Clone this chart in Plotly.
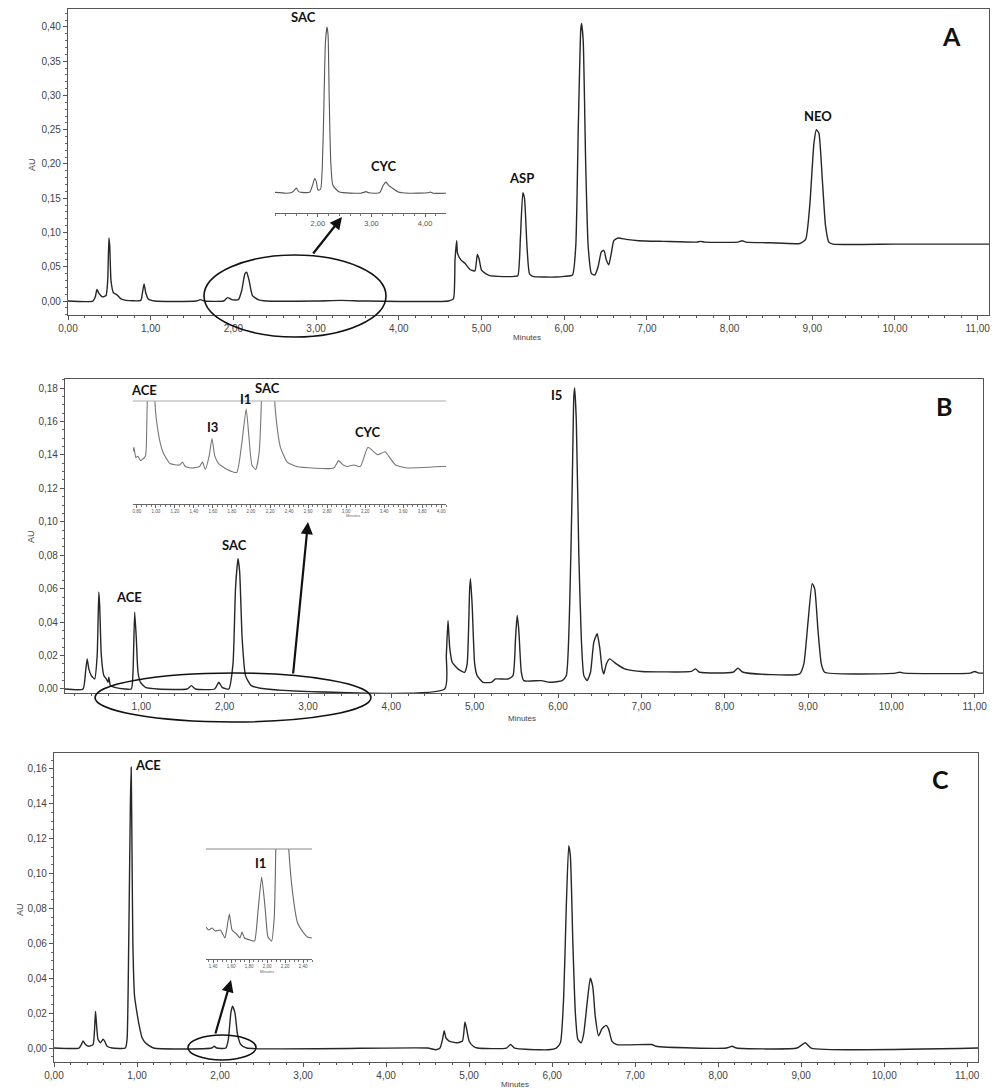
import plotly.graph_objects as go

# page body has an 8px default margin: the figure is offset by it
OFF = 8
W, H = 1000 - OFF, 1091 - OFF

# ---------------- DATA (minutes, AU) ----------------
# Panel A main chromatogram
a_t = [0.00, 0.30, 0.33, 0.35, 0.37, 0.42, 0.46, 0.48, 0.495, 0.505, 0.52, 0.55, 0.58, 0.60, 0.64, 0.70,
       0.88, 0.90, 0.92, 0.94, 0.97, 1.05, 1.55, 1.60, 1.65, 1.88, 1.93, 1.98, 2.06, 2.10, 2.14, 2.16,
       2.19, 2.23, 2.30, 2.40, 3.00, 3.30, 3.60, 4.60, 4.66, 4.68, 4.70, 4.71, 4.75, 4.80, 4.86, 4.92,
       4.95, 4.97, 5.00, 5.05, 5.10, 5.20, 5.40, 5.44, 5.47, 5.50, 5.52, 5.55, 5.58, 5.62, 5.90, 6.00,
       6.10, 6.14, 6.17, 6.20, 6.21, 6.23, 6.26, 6.29, 6.33, 6.37, 6.41, 6.45, 6.48, 6.51, 6.54, 6.57,
       6.60, 6.65, 6.75, 6.90, 7.20, 7.60, 7.65, 7.70, 8.10, 8.15, 8.20, 8.50, 8.85, 8.92, 8.97, 9.02,
       9.05, 9.08, 9.12, 9.16, 9.20, 9.25, 10.00, 11.14]
a_au = [0.000, 0.000, 0.006, 0.017, 0.012, 0.006, 0.008, 0.030, 0.092, 0.080, 0.030, 0.012, 0.010, 0.008, 0.003, 0.001,
        0.001, 0.012, 0.025, 0.012, 0.003, 0.000, 0.000, 0.002, 0.000, 0.000, 0.005, 0.002, 0.002, 0.015, 0.040, 0.042,
        0.030, 0.008, 0.002, 0.000, 0.000, 0.001, 0.000, 0.000, 0.003, 0.060, 0.088, 0.070, 0.060, 0.055, 0.046, 0.044,
        0.068, 0.062, 0.045, 0.040, 0.037, 0.036, 0.036, 0.037, 0.090, 0.158, 0.150, 0.080, 0.040, 0.036, 0.035, 0.036,
        0.038, 0.080, 0.250, 0.395, 0.405, 0.380, 0.200, 0.080, 0.040, 0.038, 0.050, 0.072, 0.074, 0.060, 0.053, 0.070,
        0.088, 0.092, 0.090, 0.088, 0.087, 0.086, 0.087, 0.086, 0.086, 0.088, 0.086, 0.085, 0.084, 0.090, 0.140, 0.230,
        0.250, 0.245, 0.180, 0.110, 0.086, 0.083, 0.083, 0.083]

# Panel A inset (zoom of 1.2-4.4 min)
ai_t = [1.20, 1.40, 1.50, 1.55, 1.60, 1.64, 1.70, 1.85, 1.90, 1.94, 1.97, 2.00, 2.05, 2.10, 2.14, 2.17,
        2.19, 2.21, 2.24, 2.28, 2.40, 2.80, 2.90, 2.95, 3.15, 3.22, 3.27, 3.32, 3.40, 3.50, 3.70, 4.05,
        4.10, 4.15, 4.39]
ai_au = [0.0002, 0.0000, 0.0001, 0.0006, 0.0013, 0.0004, 0.0002, 0.0003, 0.0020, 0.0037, 0.0030, 0.0008, 0.0010, 0.0150, 0.0380, 0.0420,
         0.0400, 0.0250, 0.0080, 0.0020, 0.0003, 0.0000, 0.0004, 0.0001, 0.0001, 0.0020, 0.0028, 0.0020, 0.0012, 0.0003, 0.0000, 0.0001,
         0.0003, 0.0000, 0.0000]

# Panel B main chromatogram
b_t = [0.08, 0.30, 0.33, 0.35, 0.37, 0.40, 0.44, 0.47, 0.49, 0.50, 0.52, 0.55, 0.58, 0.60, 0.61, 0.63,
       0.68, 0.80, 0.88, 0.90, 0.92, 0.94, 0.96, 0.99, 1.05, 1.20, 1.55, 1.60, 1.65, 1.88, 1.93, 1.97,
       2.05, 2.10, 2.13, 2.16, 2.18, 2.21, 2.25, 2.32, 2.50, 4.64, 4.66, 4.68, 4.70, 4.73, 4.80, 4.88,
       4.91, 4.94, 4.95, 4.97, 5.00, 5.03, 5.10, 5.20, 5.25, 5.40, 5.46, 5.49, 5.51, 5.53, 5.56, 5.59,
       5.80, 5.90, 6.05, 6.10, 6.14, 6.17, 6.19, 6.20, 6.22, 6.25, 6.28, 6.31, 6.35, 6.39, 6.43, 6.47,
       6.50, 6.53, 6.55, 6.58, 6.62, 6.70, 6.80, 6.90, 7.00, 7.60, 7.65, 7.70, 8.10, 8.16, 8.22, 8.90,
       8.95, 9.00, 9.05, 9.08, 9.12, 9.16, 9.20, 10.05, 10.10, 10.15, 10.95, 11.00, 11.05, 11.10]
b_au = [0.000, 0.000, 0.010, 0.018, 0.012, 0.008, 0.006, 0.020, 0.058, 0.050, 0.020, 0.008, 0.006, 0.004, 0.007, 0.002,
        0.001, 0.000, 0.000, 0.010, 0.046, 0.030, 0.010, 0.004, 0.001, 0.000, 0.000, 0.002, 0.000, 0.000, 0.004, 0.001,
        0.000, 0.015, 0.060, 0.078, 0.070, 0.030, 0.008, 0.002, 0.000, 0.000, 0.020, 0.041, 0.025, 0.016, 0.012, 0.010,
        0.015, 0.060, 0.066, 0.050, 0.015, 0.008, 0.004, 0.004, 0.006, 0.006, 0.008, 0.030, 0.044, 0.035, 0.010, 0.005,
        0.005, 0.004, 0.005, 0.008, 0.050, 0.120, 0.175, 0.180, 0.160, 0.080, 0.030, 0.008, 0.005, 0.010, 0.028, 0.033,
        0.025, 0.012, 0.009, 0.015, 0.018, 0.015, 0.012, 0.011, 0.0105, 0.0105, 0.012, 0.010, 0.010, 0.0125, 0.010, 0.009,
        0.015, 0.040, 0.063, 0.060, 0.035, 0.015, 0.010, 0.0095, 0.010, 0.0095, 0.0095, 0.0105, 0.0095, 0.0095]

# Panel B inset (zoom of 0.76-4.05 min)
bi_t = [0.76, 0.77, 0.79, 0.81, 0.84, 0.89, 0.905, 0.92, 0.95, 0.975, 0.995, 1.02, 1.05, 1.08, 1.15, 1.25,
        1.28, 1.31, 1.38, 1.46, 1.49, 1.52, 1.56, 1.59, 1.62, 1.66, 1.75, 1.85, 1.90, 1.95, 1.98, 2.01,
        2.05, 2.085, 2.11, 2.17, 2.22, 2.25, 2.28, 2.31, 2.38, 2.48, 2.87, 2.92, 2.97, 3.01, 3.08, 3.15,
        3.23, 3.33, 3.41, 3.47, 3.52, 3.64, 3.99, 4.05]
bi_au = [0.0011, 0.0014, 0.0007, 0.0008, 0.0005, 0.0008, 0.0030, 0.0080, 0.0300, 0.0080, 0.0040, 0.0026, 0.0016, 0.0010, 0.0003, 0.0002,
         0.0004, 0.0001, 0.0000, 0.0001, 0.0004, -0.0001, 0.0008, 0.0020, 0.0008, 0.0003, -0.0001, -0.0003, 0.0015, 0.0040, 0.0020, 0.0002,
         -0.0001, 0.0010, 0.0046, 0.0300, 0.0100, 0.0045, 0.0025, 0.0014, 0.0004, 0.0001, 0.0000, 0.0005, 0.0002, 0.0001, 0.0002, 0.0001,
         0.0014, 0.0009, 0.0011, 0.0006, 0.0002, 0.0000, 0.0001, 0.0001]

# Panel C main chromatogram
c_t = [0.00, 0.30, 0.33, 0.35, 0.38, 0.42, 0.47, 0.49, 0.50, 0.51, 0.53, 0.56, 0.59, 0.61, 0.64, 0.70,
       0.86, 0.88, 0.90, 0.92, 0.93, 0.94, 0.95, 0.97, 1.00, 1.03, 1.06, 1.10, 1.20, 1.90, 1.93, 1.96,
       2.07, 2.10, 2.13, 2.15, 2.18, 2.21, 2.25, 2.32, 4.50, 4.60, 4.65, 4.68, 4.70, 4.72, 4.76, 4.85,
       4.92, 4.95, 4.97, 5.00, 5.05, 5.10, 5.45, 5.50, 5.55, 5.85, 5.95, 6.05, 6.10, 6.14, 6.17, 6.20,
       6.22, 6.25, 6.28, 6.31, 6.35, 6.38, 6.42, 6.46, 6.49, 6.52, 6.56, 6.60, 6.65, 6.68, 6.72, 6.78,
       7.20, 7.25, 7.70, 8.10, 8.17, 8.22, 8.95, 9.05, 9.12, 11.13]
c_au = [0.000, 0.000, 0.002, 0.004, 0.002, 0.001, 0.002, 0.012, 0.021, 0.015, 0.005, 0.003, 0.005, 0.004, 0.001, 0.000,
        0.000, 0.005, 0.060, 0.140, 0.161, 0.110, 0.060, 0.030, 0.020, 0.012, 0.006, 0.003, 0.000, 0.000, 0.001, 0.000,
        0.000, 0.005, 0.020, 0.024, 0.020, 0.008, 0.002, 0.000, 0.000, -0.001, 0.000, 0.005, 0.010, 0.006, 0.004, 0.003,
        0.004, 0.015, 0.011, 0.004, 0.001, 0.000, 0.000, 0.002, 0.000, -0.001, -0.001, 0.000, 0.003, 0.030, 0.080, 0.116,
        0.110, 0.060, 0.020, 0.005, 0.003, 0.008, 0.025, 0.040, 0.035, 0.018, 0.007, 0.011, 0.013, 0.011, 0.004, 0.002,
        0.002, 0.001, 0.000, 0.000, 0.001, 0.000, 0.000, 0.003, 0.000, 0.000]

# Panel C inset (zoom of 1.32-2.50 min)
ci_t = [1.32, 1.35, 1.39, 1.42, 1.48, 1.53, 1.55, 1.58, 1.61, 1.66, 1.70, 1.72, 1.75, 1.81, 1.86, 1.90,
        1.94, 1.98, 2.01, 2.05, 2.08, 2.10, 2.17, 2.24, 2.29, 2.34, 2.40, 2.45, 2.50]
ci_au = [0.00020, 0.00014, 0.00018, 0.00012, 0.00014, -0.00002, 0.00014, 0.00046, 0.00014, 0.00006, -0.00002, 0.00010, -0.00002, -0.00006, -0.00008, 0.00054,
         0.00120, 0.00054, 0.00000, -0.00008, 0.00040, 0.00200, 0.00600, 0.00180, 0.00080, 0.00028, 0.00010, 0.00000, -0.00002]

# Tick labels of the insets
bi_ticks = [0.8, 1.0, 1.2, 1.4, 1.6, 1.8, 2.0, 2.2, 2.4, 2.6, 2.8, 3.0, 3.2, 3.4, 3.6, 3.8, 4.0]
ci_ticks = [1.4, 1.6, 1.8, 2.0, 2.2, 2.4]
ai_ticks = [2.0, 3.0, 4.0]


# ---------------- helpers (window pixel -> paper) ----------------
def px(x):
    return (x - OFF) / W


def py(y):
    return 1 - (y - OFF) / H


LINE = "#262626"
TICKFONT = dict(family="Liberation Sans, Arial", size=10, color="#444")

fig = go.Figure()
main_line = dict(color=LINE, width=1.4, shape="spline", smoothing=0.5)
fig.add_trace(go.Scatter(x=a_t, y=a_au, mode="lines", line=main_line, xaxis="x", yaxis="y"))
fig.add_trace(go.Scatter(x=b_t, y=b_au, mode="lines", line=main_line, xaxis="x2", yaxis="y2"))
fig.add_trace(go.Scatter(x=c_t, y=c_au, mode="lines", line=main_line, xaxis="x3", yaxis="y3"))
fig.add_trace(go.Scatter(x=ai_t, y=ai_au, mode="lines", line=dict(color="#555", width=1.1, shape="spline", smoothing=0.5),
                         xaxis="x4", yaxis="y4"))
fig.add_trace(go.Scatter(x=bi_t, y=bi_au, mode="lines", line=dict(color="#777", width=1.1, shape="spline", smoothing=0.5),
                         xaxis="x5", yaxis="y5"))
fig.add_trace(go.Scatter(x=ci_t, y=ci_au, mode="lines", line=dict(color="#666", width=1.1, shape="spline", smoothing=0.5),
                         xaxis="x6", yaxis="y6"))


def main_x(domain, rng, anchor):
    return dict(domain=domain, range=rng, anchor=anchor, showline=True, mirror=True, linecolor="#555",
                linewidth=1.2, showgrid=False, zeroline=False, ticks="outside", ticklen=4, tickcolor="#555",
                dtick=1, tick0=0, tickformat=".2f", tickfont=TICKFONT,
                minor=dict(dtick=0.2, ticks="outside", ticklen=2, tickcolor="#555"))


def main_y(domain, rng, anchor, dtick, mdt):
    return dict(domain=domain, range=rng, anchor=anchor, showline=True, mirror=True, linecolor="#555",
                linewidth=1.2, showgrid=False, zeroline=False, ticks="outside", ticklen=4, tickcolor="#555",
                dtick=dtick, tick0=0, tickformat=".2f", tickfont=TICKFONT,
                minor=dict(dtick=mdt, ticks="outside", ticklen=2, tickcolor="#666"))


def inset_x(domain, rng, anchor, tickvals, fsize, mdt):
    return dict(domain=domain, range=rng, anchor=anchor, showline=True, mirror=False, linecolor="#666",
                linewidth=1, showgrid=False, zeroline=False, ticks="outside", ticklen=3, tickcolor="#666",
                tickvals=tickvals, tickformat=".2f",
                tickfont=dict(family="Liberation Sans, Arial", size=fsize, color="#555"),
                minor=dict(dtick=mdt, ticks="outside", ticklen=2, tickcolor="#777"))


def inset_y(domain, rng, anchor):
    return dict(domain=domain, range=rng, anchor=anchor, visible=False, showgrid=False, zeroline=False)


layout = dict(
    width=W, height=H, margin=dict(l=0, r=0, t=0, b=0, autoexpand=False),
    paper_bgcolor="white", plot_bgcolor="rgba(0,0,0,0)", showlegend=False,
    separators=",.",
    xaxis=main_x([px(68), px(989)], [0, 11.137], "y"),
    yaxis=main_y([py(315), py(9)], [-0.0204, 0.4262], "x", 0.05, 0.01),
    xaxis2=main_x([px(65), px(983)], [0.084, 11.10], "y2"),
    yaxis2=main_y([py(693), py(379)], [-0.0024, 0.1854], "x2", 0.02, 0.005),
    xaxis3=main_x([px(54), px(978)], [0, 11.13], "y3"),
    yaxis3=main_y([py(1062), py(753)], [-0.0080, 0.1691], "x3", 0.02, 0.005),
    xaxis4=inset_x([px(275), px(446)], [1.2, 4.39], "y4", ai_ticks, 7.5, 0.2),
    yaxis4=inset_y([py(213), py(25)], [-0.005, 0.0425], "x4"),
    xaxis5=inset_x([px(133), px(446)], [0.76, 4.05], "y5", bi_ticks, 4.5, 0.05),
    yaxis5=inset_y([py(504), py(401)], [-0.00244, 0.00454], "x5"),
    xaxis6=inset_x([px(206), px(312)], [1.32, 2.50], "y6", ci_ticks, 4.5, 0.05),
    yaxis6=inset_y([py(959), py(849)], [-0.00044, 0.00176], "x6"),
)
fig.update_layout(**layout)

shapes = []
# ellipses marking zoomed regions
for (x0, y0, x1, y1) in [(204, 255, 386, 337), (95, 673, 371, 722), (188, 1035, 256, 1060)]:
    shapes.append(dict(type="circle", xref="paper", yref="paper", x0=px(x0), x1=px(x1), y0=py(y1), y1=py(y0),
                       line=dict(color="#111", width=1.6)))
# clip lines on top of insets B and C
shapes.append(dict(type="line", xref="paper", yref="paper", x0=px(133), x1=px(446), y0=py(401), y1=py(401),
                   line=dict(color="#aaa", width=1)))
shapes.append(dict(type="line", xref="paper", yref="paper", x0=px(206), x1=px(312), y0=py(849), y1=py(849),
                   line=dict(color="#888", width=1)))
fig.update_layout(shapes=shapes)

ann = []


def label(text, x, y, size=13, bold=True, color="#111", family="Lato, Open Sans", angle=0):
    ann.append(dict(text=("<b>%s</b>" % text) if bold else text, x=px(x), y=py(y), xref="paper", yref="paper",
                    showarrow=False, xanchor="center", yanchor="middle", textangle=angle,
                    font=dict(family=family, size=size, color=color)))


# Panel A labels
label("SAC", 303, 17)
label("CYC", 383, 166)
label("ASP", 521, 178)
label("NEO", 818, 116)
label("A", 951, 36, size=25)
# Panel B labels
label("ACE", 144, 390)
label("I3", 212, 427)
label("I1", 245, 399)
label("SAC", 267, 388)
label("CYC", 367, 432)
label("ACE", 129, 597)
label("SAC", 234, 545)
label("I5", 556, 395)
label("B", 944, 406, size=25)
# Panel C labels
label("ACE", 148, 765)
label("I1", 260, 863)
label("C", 940, 779, size=25)

# axis titles
for (x, y) in [(527, 337), (522, 718), (515, 1084)]:
    label("Minutes", x, y, size=8, bold=False, color="#444", family="Liberation Sans, Arial")
label("Minutes", 353, 516, size=4, bold=False, color="#666", family="Liberation Sans, Arial")
label("Minutes", 267, 971, size=4, bold=False, color="#666", family="Liberation Sans, Arial")
for (x, y) in [(32, 165), (31, 537), (20, 910)]:
    label("AU", x, y, size=9, bold=False, color="#444", family="Liberation Sans, Arial", angle=-90)

# arrows (head, tail) in pixels
for (hx, hy, tx, ty) in [(342, 217, 312, 255), (308, 522, 293, 675), (231, 980, 215, 1035)]:
    ann.append(dict(text="", x=px(hx), y=py(hy), xref="paper", yref="paper", showarrow=True,
                    ax=tx - hx, ay=ty - hy, arrowhead=2, arrowsize=1.1, arrowwidth=2.2, arrowcolor="#111"))

fig.update_layout(annotations=ann)
fig.write_html("out.html")
